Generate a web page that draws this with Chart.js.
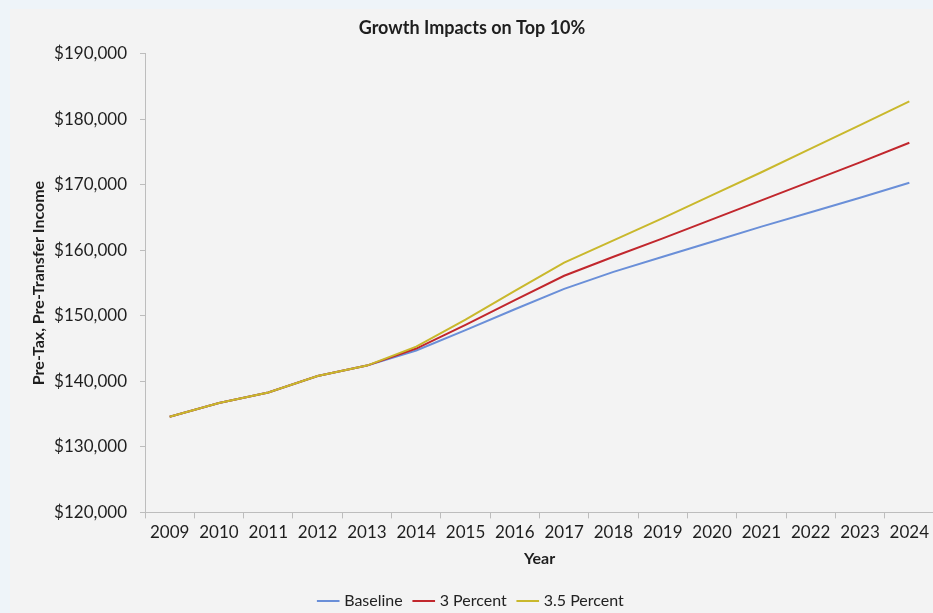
<!DOCTYPE html>
<html>
<head>
<meta charset="utf-8">
<script src="https://cdn.jsdelivr.net/npm/chart.js@4"></script>
<style>
  html, body { margin:0; padding:0; width:933px; height:613px; overflow:hidden; background:#eef4f9; }
  #wrap { position:absolute; left:10px; top:9px; width:942px; height:610px; background:#f3f3f3; }
</style>
</head>
<body>
<div id="wrap"><canvas id="c" width="942" height="610"></canvas></div>
<script>
const years = ['2009','2010','2011','2012','2013','2014','2015','2016','2017','2018','2019','2020','2021','2022','2023','2024'];
const baseline = [134600,136700,138300,140800,142400,144700,147800,151000,154100,156700,159000,161300,163600,165800,168000,170300];
const threePercent = [134600,136700,138300,140800,142400,145000,148600,152400,156100,159000,161800,164700,167600,170500,173400,176400];
const threeFivePercent = [134600,136700,138300,140800,142400,145300,149400,153800,158100,161500,164900,168400,171900,175500,179100,182700];
const seriesNames = ['Baseline','3 Percent','3.5 Percent'];

const FONT = 'Lato, "Open Sans", sans-serif';
const axisColor = '#bdbdbd';

new Chart(document.getElementById('c'), {
  type: 'line',
  data: {
    labels: years,
    datasets: [
      { label: seriesNames[0], data: baseline, borderColor: '#6a8fd8', backgroundColor: '#6a8fd8', borderWidth: 2, pointRadius: 0, tension: 0, order: 2 },
      { label: seriesNames[1], data: threePercent, borderColor: '#c1272d', backgroundColor: '#c1272d', borderWidth: 2, pointRadius: 0, tension: 0, order: 1 },
      { label: seriesNames[2], data: threeFivePercent, borderColor: '#c9b82c', backgroundColor: '#c9b82c', borderWidth: 2, pointRadius: 0, tension: 0, order: 0 }
    ]
  },
  options: {
    responsive: false,
    animation: false,
    layout: { padding: { left: 0, right: 18, top: 4, bottom: 0 } },
    plugins: {
      title: { display: true, text: 'Growth Impacts on Top 10%', color: '#1e1e1e', font: { family: FONT, size: 18, weight: 'bold' }, padding: { top: 4, bottom: 15 } },
      legend: {
        position: 'bottom',
        padding: 0,
        labels: { usePointStyle: true, pointStyle: 'line', boxWidth: 22, color: '#222', font: { family: FONT, size: 16 }, padding: 13,
          sort: (a, b) => a.datasetIndex - b.datasetIndex }
      },
      tooltip: { enabled: false }
    },
    scales: {
      x: {
        offset: true,
        grid: { display: true, offset: true, drawOnChartArea: false, drawTicks: true, tickLength: 6, color: axisColor },
        border: { display: true, color: axisColor },
        ticks: { color: '#1e1e1e', font: { family: FONT, size: 17 }, maxRotation: 0, autoSkip: false, padding: 4 },
        title: { display: true, text: 'Year', color: '#1e1e1e', font: { family: FONT, size: 16, weight: 'bold' }, padding: { top: 2, bottom: 12 } }
      },
      y: {
        min: 120000, max: 190000,
        grid: { display: true, drawOnChartArea: false, drawTicks: true, tickLength: 5, color: axisColor },
        border: { display: true, color: axisColor },
        ticks: { stepSize: 10000, color: '#1e1e1e', font: { family: FONT, size: 17 }, padding: 13,
          callback: v => '$' + v.toLocaleString('en-US') },
        title: { display: true, text: 'Pre-Tax, Pre-Transfer Income', color: '#1e1e1e', font: { family: FONT, size: 16, weight: 'bold' }, padding: { top: 19, bottom: 0 } },
        afterFit: s => { s.width = 135; }
      }
    }
  }
});
</script>
</body>
</html>
